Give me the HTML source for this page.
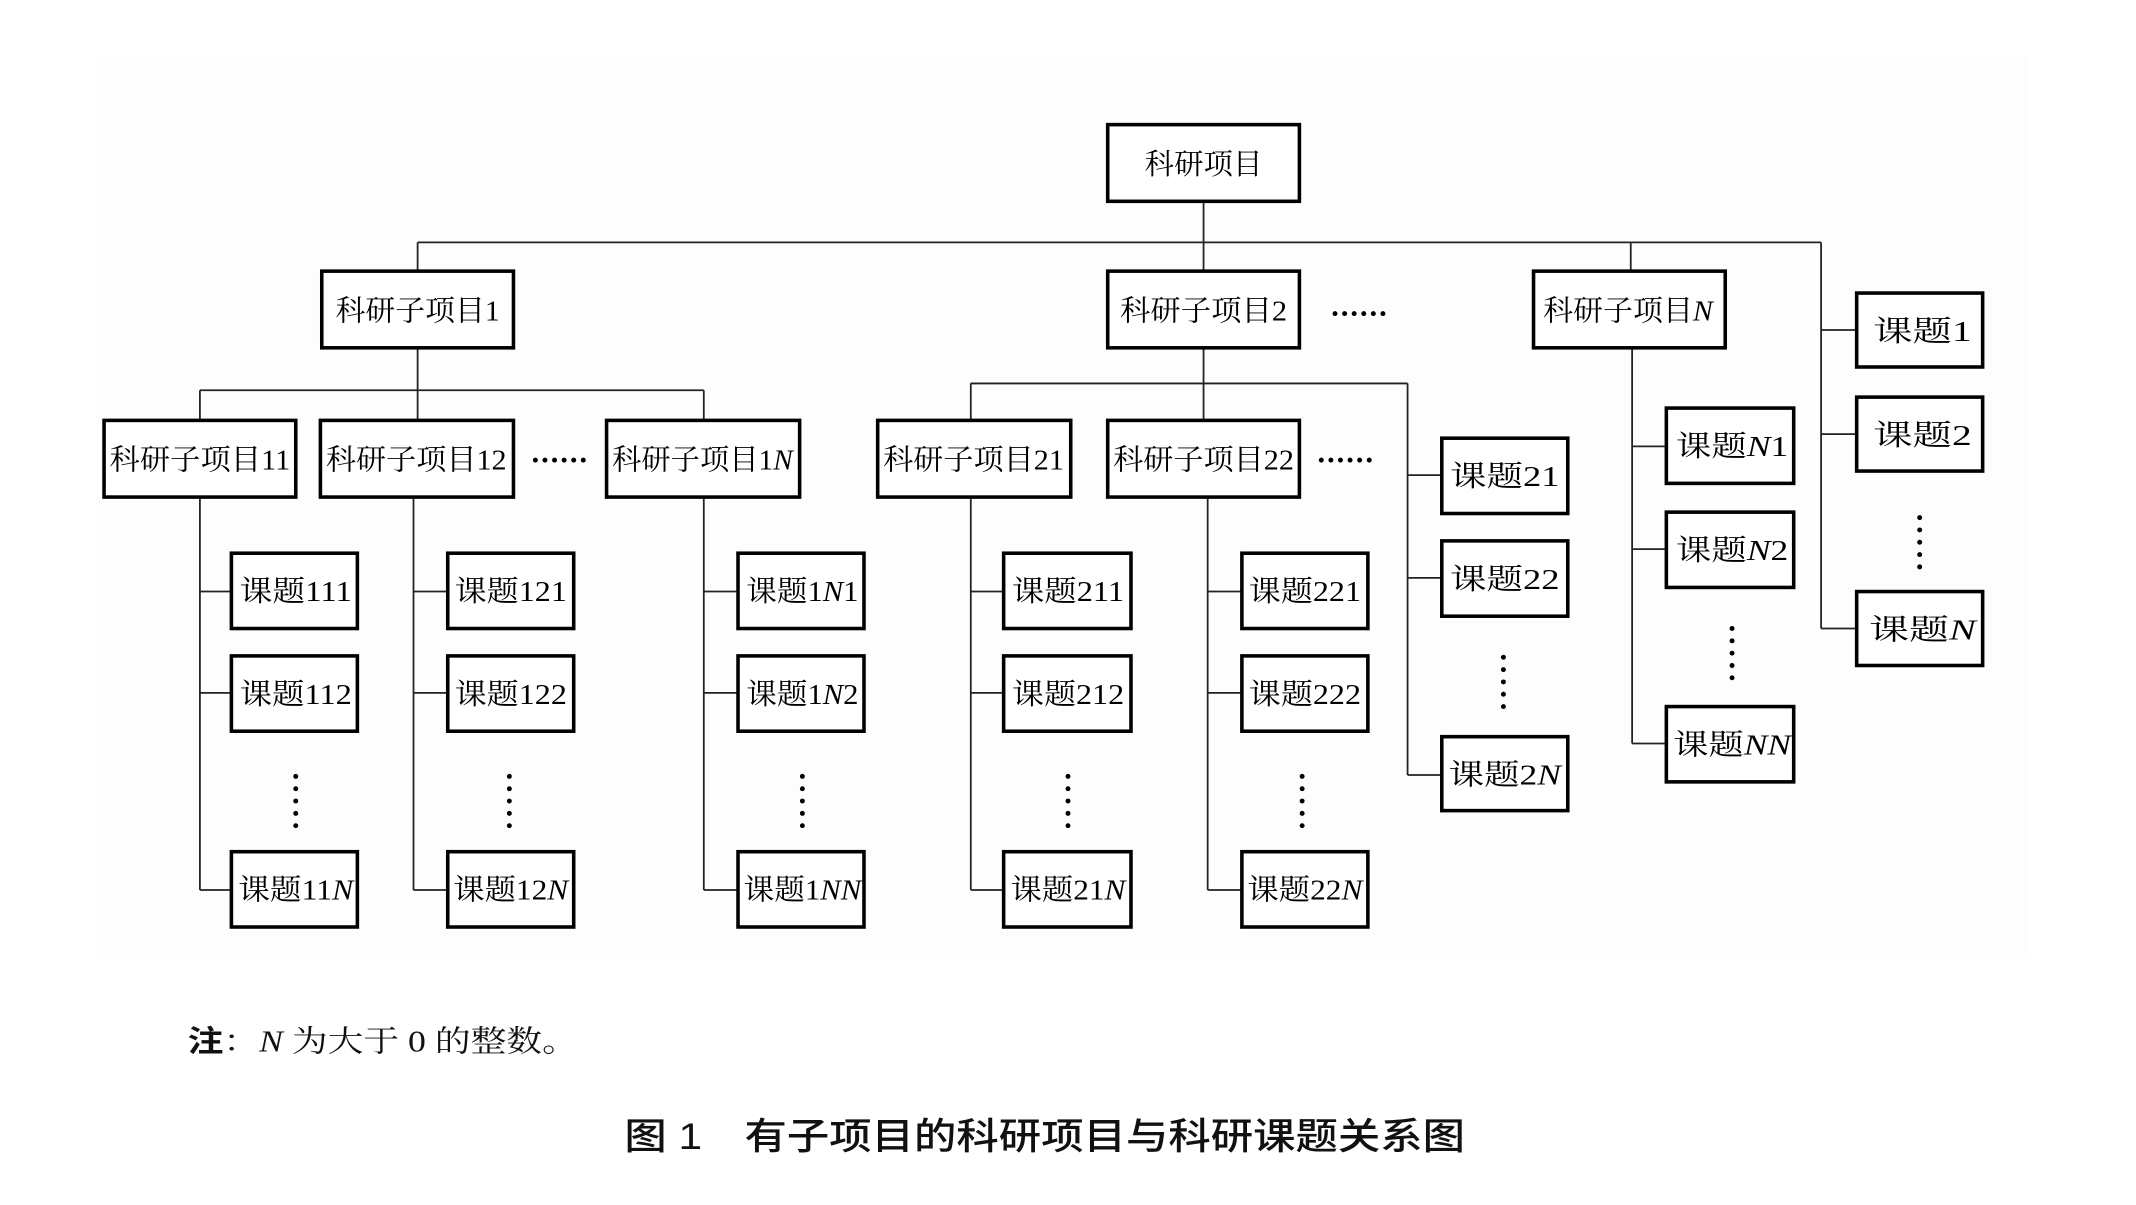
<!DOCTYPE html>
<html><head><meta charset="utf-8"><style>
html,body{margin:0;padding:0;background:#fff;}
svg{display:block;}
.b{fill:#fff;stroke:#000;stroke-width:2.6;}
.l{stroke:#222;stroke-width:1.3;fill:none;}
.t{font-family:"Liberation Serif","Noto Serif CJK SC",serif;font-size:21px;fill:#000;text-anchor:middle;}
.i{font-style:italic;}
</style></head><body>
<svg width="2136" height="1205" viewBox="0 0 1560 880" xmlns="http://www.w3.org/2000/svg">
<defs>
<g id="hd"><circle cx="0" cy="0" r="1.8"/><circle cx="7" cy="0" r="1.8"/><circle cx="14" cy="0" r="1.8"/><circle cx="21" cy="0" r="1.8"/><circle cx="28" cy="0" r="1.8"/><circle cx="35" cy="0" r="1.8"/></g>
<g id="vd"><circle cx="0" cy="0" r="1.8"/><circle cx="0" cy="9" r="1.8"/><circle cx="0" cy="18" r="1.8"/><circle cx="0" cy="27" r="1.8"/><circle cx="0" cy="36" r="1.8"/></g>
</defs>
<rect x="70" y="40" width="1410" height="660" fill="#fdfdfd"/>
<g class="l">
<path d="M879 147V177M305 177H1330M305 177V198M879 177V198M1191 177V198"/>
<path d="M1330 177V459M1330 241H1356M1330 317H1356M1330 459H1356"/>
<path d="M305 254V307M146 285H514M146 285V307M514 285V307"/>
<path d="M879 254V307M709 280H1028M709 280V307M1028 280V566M1028 347H1053M1028 422H1053M1028 566H1053"/>
<path d="M1192 254V543M1192 326H1217M1192 401H1217M1192 543H1217"/>
<path d="M146 363V650M146 432H169M146 506H169M146 650H169"/>
<path d="M302 363V650M302 432H327M302 506H327M302 650H327"/>
<path d="M514 363V650M514 432H539M514 506H539M514 650H539"/>
<path d="M709 363V650M709 432H733M709 506H733M709 650H733"/>
<path d="M882 363V650M882 432H907M882 506H907M882 650H907"/>
</g>
<g>
<rect class="b" x="809" y="91" width="140" height="56"/><text class="t" x="879" y="127" textLength="86" lengthAdjust="spacingAndGlyphs">科研项目</text>
<rect class="b" x="235" y="198" width="140" height="56"/><text class="t" x="305" y="234" textLength="120" lengthAdjust="spacingAndGlyphs">科研子项目1</text>
<rect class="b" x="809" y="198" width="140" height="56"/><text class="t" x="879" y="234" textLength="122" lengthAdjust="spacingAndGlyphs">科研子项目2</text>
<rect class="b" x="1120" y="198" width="140" height="56"/><text class="t" x="1189" y="234" textLength="124" lengthAdjust="spacingAndGlyphs">科研子项目<tspan class="i">N</tspan></text>

<rect class="b" x="76" y="307" width="140" height="56"/><text class="t" x="146" y="343" textLength="132" lengthAdjust="spacingAndGlyphs">科研子项目11</text>
<rect class="b" x="234" y="307" width="141" height="56"/><text class="t" x="304" y="343" textLength="132" lengthAdjust="spacingAndGlyphs">科研子项目12</text>
<rect class="b" x="443" y="307" width="141" height="56"/><text class="t" x="513" y="343" textLength="132" lengthAdjust="spacingAndGlyphs">科研子项目1<tspan class="i">N</tspan></text>
<rect class="b" x="641" y="307" width="141" height="56"/><text class="t" x="711" y="343" textLength="132" lengthAdjust="spacingAndGlyphs">科研子项目21</text>
<rect class="b" x="809" y="307" width="140" height="56"/><text class="t" x="879" y="343" textLength="132" lengthAdjust="spacingAndGlyphs">科研子项目22</text>

<rect class="b" x="1356" y="214" width="92" height="54"/><text class="t" x="1404" y="249" textLength="72" lengthAdjust="spacingAndGlyphs">课题1</text>
<rect class="b" x="1356" y="290" width="92" height="54"/><text class="t" x="1404" y="325" textLength="72" lengthAdjust="spacingAndGlyphs">课题2</text>
<rect class="b" x="1356" y="432" width="92" height="54"/><text class="t" x="1404" y="467" textLength="78" lengthAdjust="spacingAndGlyphs">课题<tspan class="i">N</tspan></text>

<rect class="b" x="1053" y="320" width="92" height="55"/><text class="t" x="1099" y="355" textLength="80" lengthAdjust="spacingAndGlyphs">课题21</text>
<rect class="b" x="1053" y="395" width="92" height="55"/><text class="t" x="1099" y="430" textLength="80" lengthAdjust="spacingAndGlyphs">课题22</text>
<rect class="b" x="1053" y="538" width="92" height="54"/><text class="t" x="1099" y="573" textLength="82" lengthAdjust="spacingAndGlyphs">课题2<tspan class="i">N</tspan></text>

<rect class="b" x="1217" y="298" width="93" height="55"/><text class="t" x="1265" y="333" textLength="82" lengthAdjust="spacingAndGlyphs">课题<tspan class="i">N</tspan>1</text>
<rect class="b" x="1217" y="374" width="93" height="55"/><text class="t" x="1265" y="409" textLength="82" lengthAdjust="spacingAndGlyphs">课题<tspan class="i">N</tspan>2</text>
<rect class="b" x="1217" y="516" width="93" height="55"/><text class="t" x="1265" y="551" textLength="86" lengthAdjust="spacingAndGlyphs">课题<tspan class="i">NN</tspan></text>

<rect class="b" x="169" y="404" width="92" height="55"/><text class="t" x="216" y="439" textLength="82" lengthAdjust="spacingAndGlyphs">课题111</text>
<rect class="b" x="169" y="479" width="92" height="55"/><text class="t" x="216" y="514" textLength="82" lengthAdjust="spacingAndGlyphs">课题112</text>
<rect class="b" x="169" y="622" width="92" height="55"/><text class="t" x="216" y="657" textLength="84" lengthAdjust="spacingAndGlyphs">课题11<tspan class="i">N</tspan></text>

<rect class="b" x="327" y="404" width="92" height="55"/><text class="t" x="373" y="439" textLength="82" lengthAdjust="spacingAndGlyphs">课题121</text>
<rect class="b" x="327" y="479" width="92" height="55"/><text class="t" x="373" y="514" textLength="82" lengthAdjust="spacingAndGlyphs">课题122</text>
<rect class="b" x="327" y="622" width="92" height="55"/><text class="t" x="373" y="657" textLength="84" lengthAdjust="spacingAndGlyphs">课题12<tspan class="i">N</tspan></text>

<rect class="b" x="539" y="404" width="92" height="55"/><text class="t" x="586" y="439" textLength="82" lengthAdjust="spacingAndGlyphs">课题1<tspan class="i">N</tspan>1</text>
<rect class="b" x="539" y="479" width="92" height="55"/><text class="t" x="586" y="514" textLength="82" lengthAdjust="spacingAndGlyphs">课题1<tspan class="i">N</tspan>2</text>
<rect class="b" x="539" y="622" width="92" height="55"/><text class="t" x="586" y="657" textLength="86" lengthAdjust="spacingAndGlyphs">课题1<tspan class="i">NN</tspan></text>

<rect class="b" x="733" y="404" width="93" height="55"/><text class="t" x="780" y="439" textLength="82" lengthAdjust="spacingAndGlyphs">课题211</text>
<rect class="b" x="733" y="479" width="93" height="55"/><text class="t" x="780" y="514" textLength="82" lengthAdjust="spacingAndGlyphs">课题212</text>
<rect class="b" x="733" y="622" width="93" height="55"/><text class="t" x="780" y="657" textLength="84" lengthAdjust="spacingAndGlyphs">课题21<tspan class="i">N</tspan></text>

<rect class="b" x="907" y="404" width="92" height="55"/><text class="t" x="953" y="439" textLength="82" lengthAdjust="spacingAndGlyphs">课题221</text>
<rect class="b" x="907" y="479" width="92" height="55"/><text class="t" x="953" y="514" textLength="82" lengthAdjust="spacingAndGlyphs">课题222</text>
<rect class="b" x="907" y="622" width="92" height="55"/><text class="t" x="953" y="657" textLength="84" lengthAdjust="spacingAndGlyphs">课题22<tspan class="i">N</tspan></text>
</g>
<g fill="#000">
<use href="#hd" transform="translate(975,229)"/>
<use href="#hd" transform="translate(391,336)"/>
<use href="#hd" transform="translate(965,336)"/>
<use href="#vd" transform="translate(216,567)"/>
<use href="#vd" transform="translate(372,567)"/>
<use href="#vd" transform="translate(586,567)"/>
<use href="#vd" transform="translate(780,567)"/>
<use href="#vd" transform="translate(951,567)"/>
<use href="#vd" transform="translate(1098,480)"/>
<use href="#vd" transform="translate(1265,459)"/>
<use href="#vd" transform="translate(1402,378)"/>
</g>
<text x="137" y="768" font-family="'Liberation Serif','Noto Serif CJK SC',serif" font-size="22" fill="#111" textLength="285" lengthAdjust="spacingAndGlyphs"><tspan font-weight="bold" font-family="'Noto Sans CJK SC',sans-serif">注</tspan>：<tspan font-style="italic">N</tspan> 为大于 0 的整数。</text>
<text x="456" y="839" font-family="'Liberation Sans','Noto Sans CJK SC',sans-serif" font-size="27" font-weight="500" fill="#111" textLength="614" lengthAdjust="spacingAndGlyphs">图 1　有子项目的科研项目与科研课题关系图</text>
</svg>
</body></html>
